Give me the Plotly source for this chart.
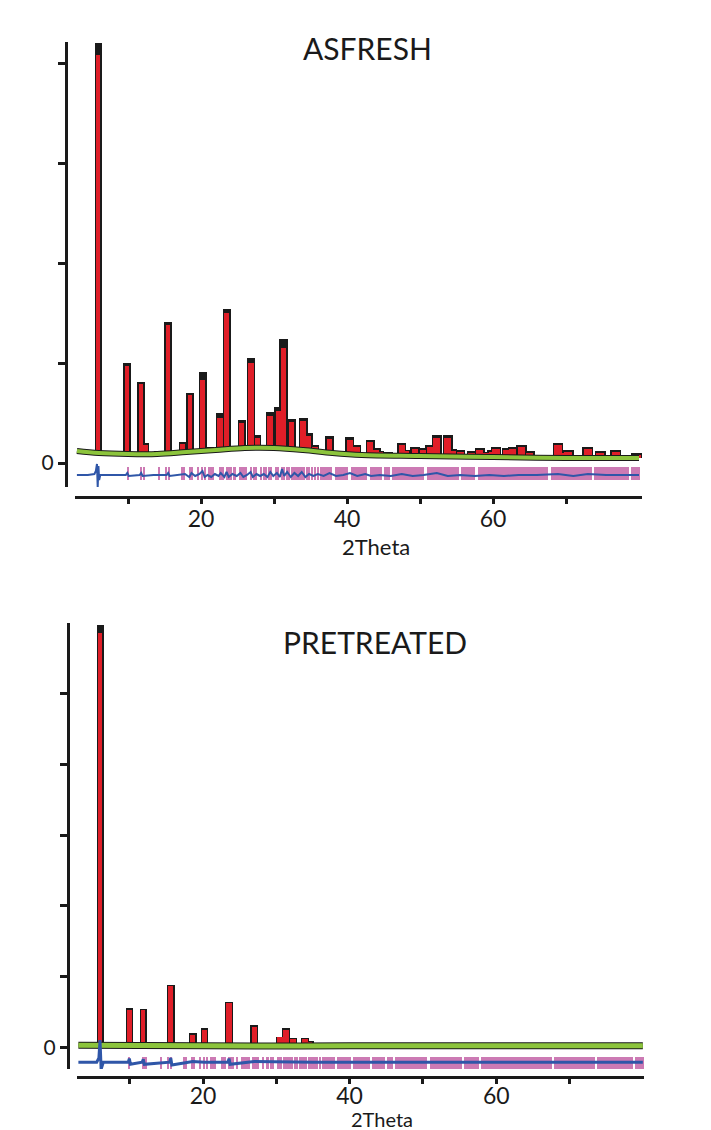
import numpy as np
import plotly.graph_objects as go

# ---------------- ASFRESH refinement ----------------
fresh_pos = [5.9, 9.85, 11.8, 12.4, 14.1, 15.5, 17.5, 18.5, 20.25, 21.2, 22.6, 23.5,
             25.6, 26.85, 27.7, 29.45, 30.6, 31.3, 32.4, 34.0, 34.7, 35.6, 37.6,
             40.4, 41.3, 43.2, 44.0, 44.5, 45.6, 47.5, 48.0, 49.3, 50.4, 51.4, 52.3,
             53.8, 54.4, 55.5, 57.1, 58.2, 59.0, 59.9, 60.4, 61.9, 62.7, 63.9, 65.0,
             68.9, 69.8, 70.3, 73.0, 74.7, 76.8, 79.7]
fresh_obs = [4.20, 1.00, 0.81, 0.20, 0.12, 1.41, 0.21, 0.70, 0.91, 0.16, 0.50, 1.54,
             0.43, 1.05, 0.28, 0.51, 0.56, 1.24, 0.44, 0.45, 0.30, 0.18, 0.27,
             0.26, 0.18, 0.23, 0.15, 0.12, 0.11, 0.20, 0.13, 0.16, 0.15, 0.18, 0.28,
             0.28, 0.14, 0.13, 0.12, 0.15, 0.11, 0.13, 0.16, 0.15, 0.16, 0.18, 0.12,
             0.20, 0.12, 0.13, 0.16, 0.12, 0.13, 0.10]
fresh_calc = [4.08, 0.97, 0.79, 0.18, 0.11, 1.38, 0.19, 0.68, 0.83, 0.15, 0.45, 1.50,
              0.40, 1.00, 0.25, 0.47, 0.52, 1.15, 0.41, 0.42, 0.27, 0.16, 0.24,
              0.23, 0.16, 0.21, 0.13, 0.11, 0.10, 0.18, 0.12, 0.14, 0.13, 0.16, 0.25,
              0.25, 0.12, 0.11, 0.10, 0.13, 0.10, 0.11, 0.14, 0.13, 0.14, 0.16, 0.10,
              0.18, 0.10, 0.11, 0.14, 0.10, 0.11, 0.08]
fresh_bg_x = [3, 6, 10, 14, 18, 22, 26, 30, 34, 38, 42, 50, 60, 70, 80]
fresh_bg_y = [0.12, 0.10, 0.09, 0.09, 0.11, 0.13, 0.15, 0.15, 0.13, 0.10, 0.08, 0.07, 0.06, 0.05, 0.05]
fresh_diff_x = [3.0, 4.5, 5.4, 5.6, 5.75, 5.85, 5.95, 6.05, 6.2, 6.6, 8.0, 9.7, 9.9, 10.1,
                11.6, 11.8, 12.0, 13.5, 15.3, 15.5, 15.7, 17.0, 17.8, 18.4, 18.7, 19.2,
                19.8, 20.2, 20.5, 20.9, 21.4, 21.9, 22.4, 22.7, 23.2, 23.5, 23.8, 24.3,
                24.9, 25.4, 25.8, 26.3, 26.8, 27.1, 27.6, 28.1, 28.6, 29.1, 29.5, 29.9,
                30.4, 30.8, 31.1, 31.4, 31.8, 32.3, 32.8, 33.3, 33.8, 34.3, 34.8, 35.4,
                36.0, 36.8, 37.6, 38.5, 39.5, 40.4, 41.4, 42.5, 43.3, 44.5, 46.0, 47.5,
                49.0, 50.5, 52.3, 53.8, 55.5, 57.5, 59.5, 61.5, 63.5, 66.0, 68.9, 71.0,
                73.0, 75.5, 78.0, 80.0]
fresh_diff_y = [-0.12, -0.12, -0.11, -0.08, -0.01, -0.24, -0.03, -0.17, -0.12, -0.12, -0.12,
                -0.12, -0.10, -0.13, -0.12, -0.10, -0.13, -0.12, -0.12, -0.10, -0.13, -0.12,
                -0.11, -0.14, -0.10, -0.13, -0.11, -0.08, -0.14, -0.12, -0.14, -0.11, -0.13,
                -0.10, -0.14, -0.09, -0.14, -0.11, -0.13, -0.10, -0.14, -0.12, -0.09, -0.14,
                -0.11, -0.13, -0.11, -0.14, -0.09, -0.13, -0.10, -0.14, -0.06, -0.13, -0.09,
                -0.14, -0.10, -0.13, -0.09, -0.14, -0.11, -0.13, -0.11, -0.13, -0.10, -0.13,
                -0.12, -0.10, -0.13, -0.11, -0.13, -0.12, -0.13, -0.11, -0.13, -0.12, -0.10,
                -0.13, -0.12, -0.13, -0.12, -0.13, -0.12, -0.12, -0.11, -0.13, -0.11, -0.12,
                -0.12, -0.12]

# ---------------- PRETREATED refinement ----------------
pre_pos = [5.95, 9.95, 11.85, 15.6, 18.6, 20.2, 21.4, 22.7, 23.55, 27.0, 29.6, 30.5,
           31.3, 32.3, 33.9, 34.5, 37.7, 40.5, 43.2, 47.5, 52.3, 53.8, 58.2, 60.3,
           63.9, 68.9, 73.0]
pre_obs = [5.96, 0.56, 0.55, 0.89, 0.21, 0.28, 0.07, 0.07, 0.65, 0.32, 0.06, 0.16,
           0.28, 0.14, 0.14, 0.10, 0.07, 0.06, 0.06, 0.05, 0.05, 0.05, 0.05, 0.05,
           0.05, 0.05, 0.05]
pre_calc = [5.85, 0.54, 0.53, 0.87, 0.19, 0.26, 0.06, 0.06, 0.63, 0.30, 0.05, 0.15,
            0.26, 0.13, 0.13, 0.09, 0.06, 0.05, 0.05, 0.04, 0.04, 0.04, 0.04, 0.04,
            0.04, 0.04, 0.04]
pre_bg_x = [3, 20, 40, 60, 80]
pre_bg_y = [0.04, 0.03, 0.03, 0.03, 0.03]
pre_diff_x = [3.0, 5.5, 5.8, 5.95, 6.1, 6.4, 9.8, 9.95, 10.1, 11.7, 11.85, 12.0, 15.45,
              15.6, 15.75, 18.6, 20.2, 23.4, 23.55, 23.7, 27.0, 31.3, 35.0, 40.0, 45.0,
              50.0, 55.0, 60.0, 65.0, 70.0, 75.0, 80.0]
pre_diff_y = [-0.20, -0.20, -0.14, 0.11, -0.30, -0.20, -0.20, -0.15, -0.23, -0.20, -0.16,
              -0.23, -0.20, -0.14, -0.24, -0.19, -0.20, -0.20, -0.15, -0.23, -0.19, -0.20,
              -0.20, -0.20, -0.20, -0.20, -0.19, -0.20, -0.20, -0.20, -0.20, -0.20]

# ---------------- reflection positions (shared phase) ----------------
refl_pos = [9.95, 11.8, 12.15, 14.3, 15.2, 15.6, 17.4, 17.7, 18.45, 18.8, 19.6, 20.15,
            20.5, 21.05, 21.35, 21.6, 22.55, 22.75, 23.0, 23.6, 23.9, 24.1, 24.6, 25.3,
            25.5, 25.7, 25.95, 26.2, 26.9, 27.3, 27.5, 28.2, 28.7, 28.9, 29.3, 29.6,
            30.3, 30.6, 31.1, 31.4, 31.8, 32.1, 32.5, 32.8, 33.2, 33.5, 33.8, 34.1,
            34.5, 34.8, 35.2, 35.6, 36.0]
refl_band_start = [36.3, 38.3, 40.5, 43.1, 45.1, 46.2, 50.9, 55.6, 57.9, 67.9, 73.8, 78.9]
refl_band_end = [38.0, 40.2, 42.8, 44.8, 45.9, 50.6, 55.3, 57.6, 67.6, 73.5, 78.6, 80.2]

BLACK = "#1a1a1a"
RED = "#e01e28"
GREEN = "#8cc43c"
BLUE = "#2f56a8"
PINK = "#cc7ab4"
FONT = "Lato"

W, H = 711, 1130


def px_x(p):
    return p / W


def px_y(p):
    return 1 - p / H


fig = go.Figure()


def add_panel(xa, ya, pos, obs, calc, bg_x, bg_y, diff_x, diff_y, tick_lo, tick_hi,
              bg_width, diff_width):
    pos = np.array(pos)
    base = np.interp(pos, bg_x, bg_y)
    obs_h = np.array(obs) - base
    calc_h = np.array(calc) - base
    # peaks broaden towards high angle
    calc_w = 0.55 + 0.008 * (pos - 5)
    obs_w = calc_w + 0.4
    # observed profile (black) under the calculated profile (red)
    fig.add_trace(go.Bar(x=pos, y=obs_h, base=base, width=obs_w, marker_color=BLACK,
                         marker_line_width=0, xaxis=xa, yaxis=ya, showlegend=False))
    fig.add_trace(go.Bar(x=pos, y=calc_h, base=base, width=calc_w, marker_color=RED,
                         marker_line_width=0, xaxis=xa, yaxis=ya, showlegend=False))
    # background
    fig.add_trace(go.Scatter(x=bg_x, y=bg_y, mode="lines",
                             line=dict(color=BLACK, width=bg_width + 2, shape="spline"),
                             xaxis=xa, yaxis=ya, showlegend=False))
    fig.add_trace(go.Scatter(x=bg_x, y=bg_y, mode="lines",
                             line=dict(color=GREEN, width=bg_width, shape="spline"),
                             xaxis=xa, yaxis=ya, showlegend=False))
    # reflection ticks
    fig.add_trace(go.Bar(x=refl_pos, y=[tick_hi - tick_lo] * len(refl_pos), base=tick_lo,
                         width=0.3, marker_color=PINK, marker_line_width=0,
                         xaxis=xa, yaxis=ya, showlegend=False))
    s = np.array(refl_band_start)
    e = np.array(refl_band_end)
    fig.add_trace(go.Bar(x=(s + e) / 2, y=[tick_hi - tick_lo] * len(s), base=tick_lo,
                         width=e - s, marker_color=PINK, marker_line_width=0,
                         xaxis=xa, yaxis=ya, showlegend=False))
    # difference curve
    fig.add_trace(go.Scatter(x=diff_x, y=diff_y, mode="lines",
                             line=dict(color=BLUE, width=diff_width),
                             xaxis=xa, yaxis=ya, showlegend=False))


add_panel("x", "y", fresh_pos, fresh_obs, fresh_calc, fresh_bg_x, fresh_bg_y,
          fresh_diff_x, fresh_diff_y, -0.17, -0.04, 4, 2)
add_panel("x2", "y2", pre_pos, pre_obs, pre_calc, pre_bg_x, pre_bg_y,
          pre_diff_x, pre_diff_y, -0.32, -0.13, 5, 3)

x_ticks = [10, 20, 30, 40, 50, 60, 70]
x_ticktext = ["", "20", "", "40", "", "60", ""]

axis_common = dict(showline=True, linewidth=3, linecolor=BLACK, ticks="outside",
                   tickwidth=3, tickcolor=BLACK, showgrid=False, zeroline=False,
                   anchor="free")

fig.update_layout(
    width=W, height=H,
    margin=dict(l=0, r=0, t=0, b=0),
    paper_bgcolor="white", plot_bgcolor="white",
    barmode="overlay", bargap=0,
    font=dict(family=FONT, color=BLACK),
    xaxis=dict(**axis_common, domain=[px_x(75), px_x(642)], range=[2.74, 80.41],
               position=px_y(497), ticklen=5, tickvals=x_ticks, ticktext=x_ticktext,
               tickfont=dict(size=23), ticklabelstandoff=-5),
    yaxis=dict(**axis_common, domain=[px_y(487), px_y(42)], range=[-0.24, 4.21],
               position=px_x(66), ticklen=7, tickvals=[0, 1, 2, 3, 4],
               ticktext=["0", "", "", "", ""], tickfont=dict(size=21)),
    xaxis2=dict(**axis_common, domain=[px_x(77), px_x(644)], range=[2.81, 80.16],
                position=px_y(1077), ticklen=5, tickvals=x_ticks, ticktext=x_ticktext,
                tickfont=dict(size=23), ticklabelstandoff=-8),
    yaxis2=dict(**axis_common, domain=[px_y(1069), px_y(623)], range=[-0.296, 5.986],
                position=px_x(68), ticklen=7, tickvals=[0, 1, 2, 3, 4, 5],
                ticktext=["0", "", "", "", "", ""], tickfont=dict(size=21)),
    annotations=[
        dict(text="ASFRESH", x=px_x(367), y=px_y(48), xref="paper", yref="paper",
             xanchor="center", yanchor="middle", showarrow=False,
             font=dict(size=30, family=FONT)),
        dict(text="PRETREATED", x=px_x(375), y=px_y(642), xref="paper", yref="paper",
             xanchor="center", yanchor="middle", showarrow=False,
             font=dict(size=30, family=FONT)),
        dict(text="2Theta", x=px_x(376), y=px_y(546), xref="paper", yref="paper",
             xanchor="center", yanchor="middle", showarrow=False,
             font=dict(size=22, family=FONT)),
        dict(text="2Theta", x=px_x(382), y=px_y(1119), xref="paper", yref="paper",
             xanchor="center", yanchor="middle", showarrow=False,
             font=dict(size=20, family=FONT)),
    ],
)

fig.write_html("out.html")
